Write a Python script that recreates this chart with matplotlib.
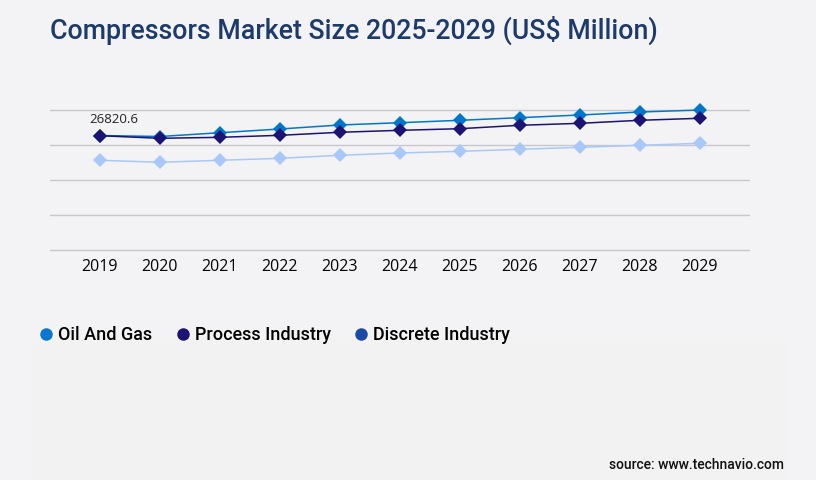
import matplotlib
matplotlib.use("Agg")
import matplotlib.pyplot as plt
from matplotlib.lines import Line2D

years = ["2019", "2020", "2021", "2022", "2023", "2024", "2025", "2026", "2027", "2028", "2029"]
oil_and_gas = [26820.6, 26590, 27480, 28350, 29290, 29820, 30390, 31000, 31630, 32330, 32800]
process_industry = [26780, 26170, 26400, 26870, 27580, 28040, 28420, 29220, 29680, 30390, 30860]
discrete_industry = [21020, 20550, 21020, 21480, 22190, 22730, 23120, 23590, 24060, 24530, 25000]
series_names = ["Oil And Gas", "Process Industry", "Discrete Industry"]
grid_ticks = [0, 8200, 16400, 24600, 32800]

W, H = 816, 480
bg = "#f3f3f6"
fig = plt.figure(figsize=(W / 100, H / 100), dpi=100, facecolor=bg)

# subtle lower panel
fig.patches.append(plt.Rectangle((32 / W, 0), (790 - 32) / W, (480 - 338) / H,
                                 transform=fig.transFigure, facecolor="#f2f2f3",
                                 edgecolor="none", zorder=0))

px_per_unit = 35 / 8200
ax = fig.add_axes([50 / W, 1 - 253 / H, 700 / W, 153 / H])
ax.set_facecolor("none")
x = list(range(len(years)))
line_colors = ["#0077cc", "#1b1474", "#a9c8fa"]
legend_colors = ["#0a78d0", "#1b1474", "#1a4aa8"]
data = [oil_and_gas, process_industry, discrete_industry]
order = [2, 0, 1]
for i in order:
    ax.plot(x, data[i], color=line_colors[i], lw=1.1, marker="D", markersize=6.8,
            markeredgewidth=0, zorder=3 + (1 if i == 1 else 0))

ax.set_xlim(-50 / 60, 10 + 50 / 60)
ax.set_ylim(-3 / px_per_unit, 150 / px_per_unit)
ax.set_yticks(grid_ticks)
ax.yaxis.grid(True, color="#c8c8cc", lw=1)
ax.set_axisbelow(True)
ax.tick_params(axis="y", left=False, labelleft=False)
ax.tick_params(axis="x", bottom=False, pad=1)
ax.set_xticks(x)
ax.set_xticklabels(years, fontsize=11.5, family="Open Sans", color="#000000")
for s in ax.spines.values():
    s.set_visible(False)

ax.annotate(f"{oil_and_gas[0]:.1f}", (0, oil_and_gas[0]), xytext=(-7.5, 7),
            textcoords="offset points", fontsize=9.5, family="Open Sans",
            color="#222222", ha="left", va="bottom")

fig.text(50 / W, 1 - 30 / H, "Compressors Market Size 2025-2029 (US$ Million)",
         fontsize=19.3, family="Roboto", weight="medium", color="#1c3a6b",
         ha="left", va="center")

handles = [Line2D([], [], marker="o", ls="none", markersize=9, markeredgewidth=0,
                  color=c) for c in legend_colors]
fig.legend(handles, series_names, loc="center left", bbox_to_anchor=(30 / W, 1 - 335 / H),
           ncol=3, frameon=False, prop={"family": "Roboto", "weight": "medium", "size": 13},
           handletextpad=0.15, columnspacing=1.2, handlelength=1.0, borderaxespad=0)

fig.text(784 / W, 1 - 465 / H, "source: www.technavio.com", fontsize=10,
         family="Roboto", weight="medium", color="#111111", ha="right", va="center")

fig.savefig("out.png", dpi=100, facecolor=bg)
